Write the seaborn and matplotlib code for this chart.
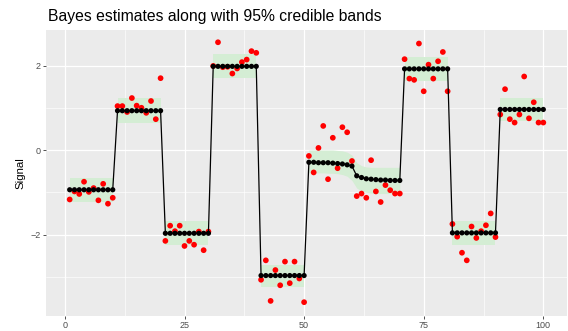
import matplotlib
matplotlib.use("Agg")
import matplotlib.pyplot as plt
import seaborn as sns
import numpy as np
import pandas as pd

# ---- data ----
position = list(range(1, 101))

observed = [
    -1.17, -0.98, -1.04, -0.75, -0.99, -0.90, -1.19, -0.80, -1.27, -1.13,
    1.04, 1.04, 0.90, 1.23, 1.05, 1.00, 0.88, 1.16, 0.73, 1.70,
    -2.15, -1.79, -1.92, -1.79, -2.27, -2.15, -2.24, -1.93, -2.37, -1.93,
    1.99, 2.55, 1.96, 1.97, 1.81, 1.93, 2.08, 2.14, 2.34, 2.30,
    -3.07, -2.61, -3.57, -2.84, -3.20, -2.64, -3.15, -2.64, -3.04, -3.60,
    -0.14, -0.53, 0.05, 0.57, -0.69, 0.29, -0.43, 0.54, 0.42, -0.26,
    -1.09, -1.03, -1.13, -0.24, -0.98, -1.23, -0.83, -0.95, -1.03, -1.03,
    2.15, 1.69, 1.66, 2.52, 1.39, 2.02, 1.69, 2.10, 2.32, 1.39,
    -1.75, -2.05, -2.43, -2.61, -1.81, -2.08, -1.92, -1.78, -1.50, -2.06,
    0.84, 1.44, 0.73, 0.65, 0.84, 1.74, 0.75, 1.13, 0.65, 0.65,
]

estimate = (
    [-0.94] * 10 + [0.93] * 10 + [-1.97] * 10 + [1.98] * 10 + [-2.97] * 10
    + [-0.29, -0.29, -0.30, -0.30, -0.30, -0.31, -0.32, -0.33, -0.35, -0.38]
    + [-0.61, -0.65, -0.68, -0.69, -0.70, -0.71, -0.71, -0.72, -0.72, -0.72]
    + [1.92] * 10 + [-1.96] * 10 + [0.96] * 10
)

lower = (
    [-1.22] * 10 + [0.65] * 10 + [-2.25] * 10 + [1.70] * 10 + [-3.25] * 10
    + [-0.54, -0.54, -0.54, -0.54, -0.55, -0.55, -0.56, -0.58, -0.62, -0.72]
    + [-0.90, -0.97, -1.00, -1.02, -1.03, -1.03, -1.03, -1.03, -1.03, -1.03]
    + [1.63] * 10 + [-2.25] * 10 + [0.69] * 10
)

upper = (
    [-0.66] * 10 + [1.22] * 10 + [-1.69] * 10 + [2.27] * 10 + [-2.71] * 10
    + [0.00, 0.00, 0.00, 0.00, 0.00, 0.00, -0.01, -0.02, -0.05, -0.12]
    + [-0.30, -0.37, -0.40, -0.41, -0.41, -0.41, -0.41, -0.41, -0.41, -0.41]
    + [2.19] * 10 + [-1.69] * 10 + [1.23] * 10
)

band_group = ([1] * 10 + [2] * 10 + [3] * 10 + [4] * 10 + [5] * 10
              + [6] * 20 + [7] * 10 + [8] * 10 + [9] * 10)

df = pd.DataFrame({"x": position, "obs": observed, "est": estimate,
                   "lo": lower, "hi": upper, "grp": band_group})

# ---- style ----
sns.set_theme(style="darkgrid", rc={
    "axes.facecolor": "#EBEBEB",
    "grid.color": "white",
})
plt.rcParams["font.family"] = ["Liberation Sans", "DejaVu Sans"]

fig = plt.figure(figsize=(5.68, 3.31), dpi=100)
ax = fig.add_axes([46 / 568, 1 - 315.7 / 331, (567 - 46) / 568, (315.7 - 30) / 331])

for g, sub in df.groupby("grp"):
    ax.fill_between(sub["x"], sub["lo"], sub["hi"], color="#D4EDD4",
                    linewidth=0, zorder=1)

sns.scatterplot(data=df, x="x", y="obs", color="#FF0000", s=17,
                edgecolor="none", ax=ax, zorder=2)
sns.lineplot(data=df, x="x", y="est", color="black", linewidth=0.9,
             ax=ax, zorder=3)
sns.scatterplot(data=df, x="x", y="est", color="black", s=14,
                edgecolor="none", ax=ax, zorder=4)

ax.set_xlim(-3.95, 104.95)
ax.set_ylim(-3.92, 2.84)
ax.set_xticks([0, 25, 50, 75, 100])
ax.set_yticks([-2, 0, 2])
ax.set_xticks([12.5, 37.5, 62.5, 87.5], minor=True)
ax.set_yticks([-3, -1, 1], minor=True)
ax.set_yticklabels(["\u22122", "0", "2"])
ax.grid(which="major", color="white", linewidth=0.9)
ax.grid(which="minor", color="white", linewidth=0.45)
for s in ax.spines.values():
    s.set_visible(False)

ax.tick_params(axis="both", which="major", length=2.5, width=0.6,
               color="#333333", labelsize=6.5, labelcolor="#4D4D4D", pad=1.5)
ax.tick_params(axis="both", which="minor", length=0)
ax.tick_params(axis="both", bottom=True, left=True)

ax.set_xlabel("")
ax.set_ylabel("Signal", fontsize=8.2, color="black", labelpad=3.5)
fig.text(48 / 568, 1 - 20.5 / 331, "Bayes estimates along with 95% credible bands",
         fontsize=11.3, color="black", ha="left", va="baseline")

fig.savefig("out.png", dpi=100)
